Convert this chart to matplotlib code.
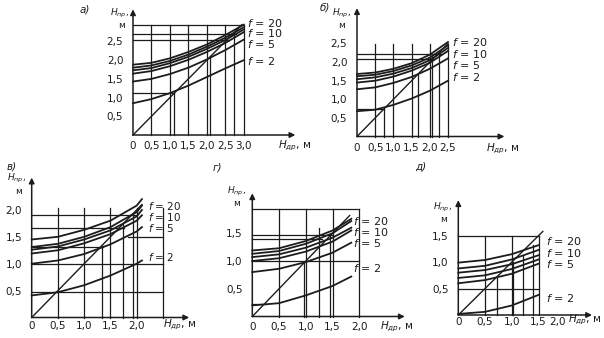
#!/usr/bin/env python3
"""
Nomograms H_пр = f(H_др) for several f values, five panels а)-д)
"""

import matplotlib.pyplot as plt

W, H = 604, 338
INK = '#1c1c1c'

F_LABELS = [r'$f$ = 20', r'$f$ = 10', r'$f$ = 5', r'$f$ = 2']

# ---- panel а) ----
A_X = [0, 0.5, 1.0, 1.5, 2.0, 2.5, 3.0]
A_CURVES = [
    [1.88, 1.93, 2.05, 2.22, 2.42, 2.67, 2.95],
    [1.80, 1.86, 1.98, 2.15, 2.36, 2.60, 2.88],
    [1.73, 1.79, 1.92, 2.09, 2.30, 2.54, 2.82],
    [1.64, 1.71, 1.84, 2.01, 2.22, 2.46, 2.75],
    [1.43, 1.50, 1.63, 1.80, 2.02, 2.27, 2.55],
    [0.85, 0.96, 1.12, 1.32, 1.55, 1.78, 2.00],
]
A_F_Y = [3.0, 2.72, 2.42, 1.97]
A_HLINES = [(1.12, 0, 1.12), (2.55, 0, 2.6), (2.7, 0, 2.78), (2.95, 0, 3.0)]
A_VLINES = [(0.5, 2.95), (1.0, 2.95), (1.12, 1.12), (1.5, 2.95), (2.0, 2.95),
            (2.1, 2.12), (2.5, 2.95), (2.75, 2.75), (3.0, 2.95)]
A_XTICKS = [0, 0.5, 1.0, 1.5, 2.0, 2.5, 3.0]
A_YTICKS = [0.5, 1.0, 1.5, 2.0, 2.5]

# ---- panel б) ----
B_X = [0, 0.5, 1.0, 1.5, 2.0, 2.5]
B_CURVES = [
    [1.68, 1.72, 1.82, 1.97, 2.20, 2.54],
    [1.62, 1.66, 1.76, 1.91, 2.12, 2.45],
    [1.54, 1.59, 1.69, 1.84, 2.05, 2.38],
    [1.45, 1.50, 1.61, 1.77, 1.98, 2.30],
    [1.27, 1.32, 1.44, 1.60, 1.82, 2.10],
    [0.68, 0.72, 0.85, 1.02, 1.23, 1.50],
]
B_F_Y = [2.55, 2.22, 1.91, 1.59]
B_HLINES = [(0.75, 0, 0.75), (2.07, 0, 2.1), (2.22, 0, 2.3)]
B_VLINES = [(0.5, 2.5), (0.73, 0.75), (1.0, 2.5), (1.5, 2.5), (1.68, 1.68),
            (2.0, 2.5), (2.06, 2.2), (2.24, 2.3), (2.5, 2.5)]
B_XTICKS = [0, 0.5, 1.0, 1.5, 2.0, 2.5]
B_YTICKS = [0.5, 1.0, 1.5, 2.0, 2.5]

# ---- panel в) ----
C_X = [0, 0.5, 1.0, 1.5, 2.0, 2.1]
C_CURVES = [
    [1.45, 1.50, 1.63, 1.80, 2.08, 2.20],
    [1.31, 1.37, 1.50, 1.68, 1.96, 2.08],
    [1.26, 1.32, 1.45, 1.62, 1.88, 2.00],
    [1.19, 1.25, 1.38, 1.55, 1.80, 1.90],
    [1.00, 1.06, 1.18, 1.36, 1.60, 1.68],
    [0.41, 0.47, 0.60, 0.78, 1.00, 1.06],
]
C_F_Y = [2.07, 1.86, 1.66, 1.13]
C_HLINES = [(0.48, 0, 2.5), (1.0, 0, 2.5), (1.31, 0, 1.35), (1.5, 1.84, 2.5),
            (1.67, 0, 1.75), (1.9, 0, 2.0)]
C_VLINES = [(0.5, 2.04), (1.0, 2.04), (1.33, 1.35), (1.5, 2.04), (1.73, 1.73),
            (1.92, 1.92), (2.0, 2.04), (2.5, 2.04)]
C_XTICKS = [0, 0.5, 1.0, 1.5, 2.0]
C_YTICKS = [0.5, 1.0, 1.5, 2.0]

# ---- panel г) ----
D_X = [0, 0.5, 1.0, 1.5, 1.85]
D_CURVES = [
    [1.19, 1.23, 1.36, 1.55, 1.76],
    [1.13, 1.18, 1.31, 1.50, 1.72],
    [1.07, 1.12, 1.24, 1.42, 1.60],
    [1.00, 1.05, 1.17, 1.35, 1.55],
    [0.80, 0.86, 0.98, 1.15, 1.33],
    [0.20, 0.24, 0.38, 0.55, 0.72],
]
D_F_Y = [1.72, 1.52, 1.32, 0.87]
D_HLINES = [(0.23, 0, 0.25), (1.0, 0, 2.0), (1.4, 0, 1.3), (1.47, 0, 1.5), (1.94, 0, 2.0)]
D_VLINES = [(0.5, 1.94), (0.97, 0.97), (1.0, 1.94), (1.25, 1.6), (1.45, 1.47),
            (1.5, 1.94), (2.0, 1.94)]
D_XTICKS = [0, 0.5, 1.0, 1.5, 2.0]
D_YTICKS = [0.5, 1.0, 1.5]

# ---- panel д) ----
E_X = [0, 0.5, 1.0, 1.5]
E_CURVES = [
    [0.99, 1.04, 1.15, 1.32],
    [0.88, 0.93, 1.05, 1.23],
    [0.80, 0.85, 0.96, 1.13],
    [0.70, 0.75, 0.87, 1.05],
    [0.60, 0.66, 0.78, 0.97],
    [0.02, 0.06, 0.18, 0.38],
]
E_F_Y = [1.39, 1.17, 0.97, 0.33]
E_HLINES = [(0.5, 0, 1.5), (1.5, 0, 1.5)]
E_VLINES = [(0.5, 1.5), (0.72, 0.7), (1.0, 1.5), (1.03, 1.0), (1.2, 1.12),
            (1.4, 1.32), (1.5, 1.5)]
E_XTICKS = [0, 0.5, 1.0, 1.5, 2.0]
E_YTICKS = [0.5, 1.0, 1.5]


def fmt(v):
    return '0' if v == 0 else f'{v:.1f}'.replace('.', ',')


def panel(fig, origin, scale, extent, x, curves, f_x, f_y, hlines, vlines,
          xticks, yticks, diag, xlab, ylab, xpad, xtick_pos=None, fsize=8):
    ox, oy = origin
    sx, sy = scale
    xr, yr = extent
    ax = fig.add_axes([ox / W, 1 - oy / H, xr * sx / W, yr * sy / H])
    ax.set_xlim(0, xr)
    ax.set_ylim(0, yr)
    ax.patch.set_alpha(0)
    for s in ax.spines.values():
        s.set_visible(False)
    ax.set_xticks(xtick_pos if xtick_pos else xticks)
    ax.set_xticklabels([fmt(v) for v in xticks])
    ax.set_yticks(yticks)
    ax.set_yticklabels([fmt(v) for v in yticks])
    ax.tick_params(axis='x', length=0, pad=xpad, labelsize=7.5, colors=INK)
    ax.tick_params(axis='y', length=0, pad=7, labelsize=7.5, colors=INK)

    # axes with arrows
    ax.annotate('', xy=(xr, 0), xytext=(0, 0), annotation_clip=False,
                arrowprops=dict(arrowstyle='-|>', color=INK, lw=1.1,
                                mutation_scale=8, shrinkA=0, shrinkB=0))
    ax.annotate('', xy=(0, yr), xytext=(0, 0), annotation_clip=False,
                arrowprops=dict(arrowstyle='-|>', color=INK, lw=1.1,
                                mutation_scale=8, shrinkA=0, shrinkB=0))

    # grid / construction lines
    for y, x0, x1 in hlines:
        ax.plot([x0, x1], [y, y], color=INK, lw=0.9, clip_on=False)
    for xv, y1 in vlines:
        ax.plot([xv, xv], [0, y1], color=INK, lw=0.9, clip_on=False)

    # diagonal H_пр = H_др
    ax.plot([0, diag], [0, diag], color=INK, lw=1.0, clip_on=False)

    for c in curves:
        ax.plot(x, c, color=INK, lw=1.3, clip_on=False)

    for lab, y in zip(F_LABELS, f_y):
        ax.text(f_x, y, lab, fontsize=fsize, color=INK, va='center', ha='left',
                clip_on=False)

    ax.text(xlab[0], xlab[1], r'$H_{др}$, м', fontsize=7.5, color=INK,
            va='center', ha='left', clip_on=False)
    ax.text(ylab[0], ylab[1], r'$H_{пр}$,', fontsize=6.5, color=INK,
            va='center', ha='left', clip_on=False)
    ax.text(ylab[2], ylab[3], 'м', fontsize=6.5, color=INK,
            va='center', ha='left', clip_on=False)
    return ax


fig = plt.figure(figsize=(W / 100, H / 100), dpi=100)
fig.patch.set_facecolor('white')

panel(fig, (133, 135), (36.9, 37.4), (4.4, 3.36), A_X, A_CURVES, 3.08, A_F_Y,
      A_HLINES, A_VLINES, A_XTICKS, A_YTICKS, 2.95, (3.92, -0.3),
      (-0.63, 3.25, -0.41, 2.93), 4.5)
panel(fig, (357, 136.5), (36.4, 37.2), (4.05, 3.45), B_X, B_CURVES, 2.6, B_F_Y,
      B_HLINES, B_VLINES, B_XTICKS, B_YTICKS, 2.5, (3.55, -0.33),
      (-0.69, 3.3, -0.52, 2.98), 5)
panel(fig, (31.7, 317.5), (52.5, 53.8), (3.0, 2.6), C_X, C_CURVES, 2.22, C_F_Y,
      C_HLINES, C_VLINES, C_XTICKS, C_YTICKS, 2.1, (2.5, -0.13),
      (-0.47, 2.58, -0.32, 2.35), 2.5, fsize=7.5)
panel(fig, (252.3, 316.5), (53.5, 55.5), (2.85, 2.22), D_X, D_CURVES, 1.89, D_F_Y,
      D_HLINES, D_VLINES, D_XTICKS, D_YTICKS, 1.82, (2.39, -0.18),
      (-0.47, 2.25, -0.36, 2.04), 4)
panel(fig, (458.3, 315), (53.5, 52.9), (2.5, 2.17), E_X, E_CURVES, 1.64, E_F_Y,
      E_HLINES, E_VLINES, E_XTICKS, E_YTICKS, 1.58, (2.05, -0.09),
      (-0.47, 2.03, -0.34, 1.8), 1.5, xtick_pos=[0, 0.5, 1.0, 1.5, 1.86])

for txt, px, py in [('а)', 80, 10), ('б)', 320, 8), ('в)', 7, 166),
                    ('г)', 213, 167), ('д)', 415, 166)]:
    fig.text(px / W, 1 - py / H, txt, fontsize=7.5, style='italic', color=INK,
             va='center', ha='left')

fig.savefig('out.png', dpi=100)
